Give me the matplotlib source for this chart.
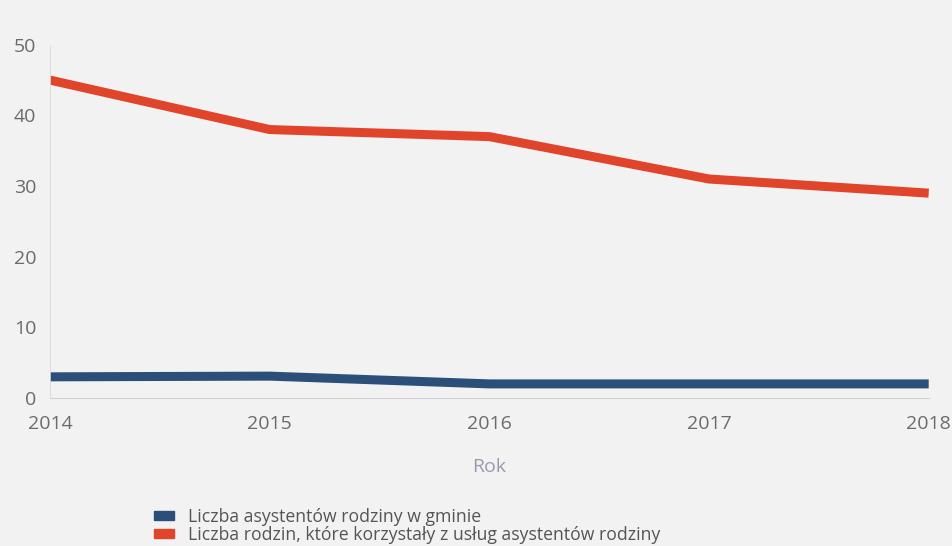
import matplotlib
matplotlib.use('Agg')
import matplotlib.pyplot as plt
from matplotlib.patches import Patch

lata = [2014, 2015, 2016, 2017, 2018]
asystenci = [3, 3.1, 2, 2, 2]
rodziny = [45, 38, 37, 31, 29]
y_ticks = [0, 10, 20, 30, 40, 50]
etykiety = ['Liczba asystentów rodziny w gminie',
            'Liczba rodzin, które korzystały z usług asystentów rodziny']

NIEBIESKI = '#2c4f7a'
CZERWONY = '#e0452b'
TLO = '#f2f2f2'

plt.rcParams['font.family'] = ['Open Sans', 'DejaVu Sans']

fig = plt.figure(figsize=(9.53, 5.46), dpi=100, facecolor=TLO)
ax = fig.add_axes([0.0525, 0.271, 0.922, 0.647])
ax.set_facecolor(TLO)

ax.plot(lata, asystenci, color=NIEBIESKI, lw=6.5, solid_capstyle='butt', solid_joinstyle='round')
ax.plot(lata, rodziny, color=CZERWONY, lw=6.5, solid_capstyle='butt', solid_joinstyle='round')

ax.set_xlim(2014, 2018)
ax.set_ylim(0, 50)
ax.set_xticks(lata)
ax.set_yticks(y_ticks)
ax.tick_params(length=0, labelsize=14, labelcolor='#6b6b6b')
ax.tick_params(axis='y', pad=10)
ax.tick_params(axis='x', pad=12)
for s in ['top', 'right']:
    ax.spines[s].set_visible(False)
ax.spines['left'].set_color('#d8d8d8')
ax.spines['left'].set_linewidth(0.6)
ax.spines['bottom'].set_color('#d0d0d0')
ax.spines['bottom'].set_linewidth(0.8)

ax.set_xlabel('Rok', fontsize=14, color='#9a9aae', labelpad=18)

uchwyty = [Patch(color=NIEBIESKI), Patch(color=CZERWONY)]
fig.legend(uchwyty, etykiety, loc='upper left', bbox_to_anchor=(0.158, 0.076),
           frameon=False, fontsize=12.7, labelcolor='#555555', handlelength=1.15,
           handleheight=0.45, handletextpad=0.78, labelspacing=0.0, borderpad=0.2,
           borderaxespad=0)

fig.savefig('out.png', dpi=100, facecolor=TLO)
